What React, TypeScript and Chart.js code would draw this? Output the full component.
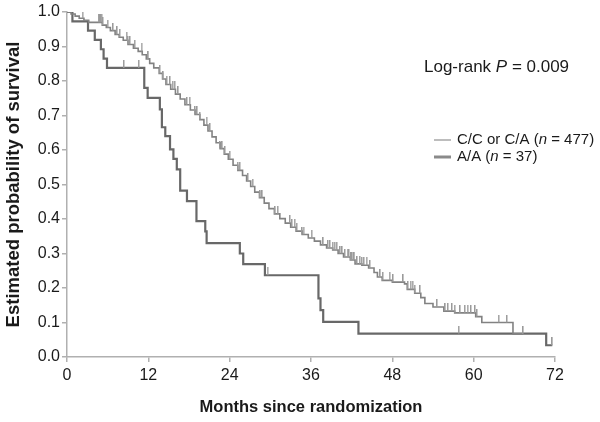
import React, { useEffect, useRef } from "react";
import { Chart, registerables } from "chart.js";

Chart.register(...registerables);

// C/C or C/A (n = 477): event months and survival after each step
const ccMonths = [0, 0.6, 1.2, 1.8, 2.5, 3.2, 5.2, 5.8, 6.4, 7.1, 7.7, 8.3, 9.0, 9.8, 10.5, 11.1, 11.7, 12.2, 12.8, 13.6, 14.1, 14.6, 15.3, 16.0, 16.7, 17.4, 18.2, 18.9, 19.6, 20.2, 20.8, 21.4, 22.0, 22.6, 23.2, 23.8, 24.5, 25.2, 25.9, 26.5, 27.1, 27.7, 28.4, 29.1, 29.8, 30.6, 31.4, 32.2, 33.0, 33.8, 34.7, 35.6, 36.5, 37.4, 38.3, 39.2, 40.0, 40.8, 41.8, 42.5, 43.5, 44.5, 45.3, 45.8, 46.5, 48.0, 49.8, 50.2, 51.3, 52.2, 52.8, 54.0, 55.6, 57.2, 60.3, 61.2, 65.8, 67.3];
const ccSurv = [1.0, 0.994, 0.988, 0.982, 0.976, 0.97, 0.962, 0.955, 0.946, 0.935, 0.927, 0.918, 0.906, 0.895, 0.886, 0.876, 0.864, 0.851, 0.838, 0.822, 0.806, 0.79, 0.776, 0.762, 0.748, 0.731, 0.716, 0.703, 0.688, 0.672, 0.655, 0.638, 0.621, 0.604, 0.588, 0.573, 0.556, 0.541, 0.526, 0.51, 0.494, 0.478, 0.462, 0.446, 0.43, 0.415, 0.401, 0.388, 0.376, 0.365, 0.355, 0.345, 0.336, 0.325, 0.316, 0.31, 0.3, 0.29, 0.281, 0.27, 0.266, 0.258, 0.245, 0.232, 0.222, 0.217, 0.212, 0.196, 0.185, 0.172, 0.155, 0.145, 0.133, 0.128, 0.117, 0.1, 0.067, 0.067];
const ccCensor = [2.3, 4.7, 4.9, 5.0, 5.1, 5.3, 6.0, 6.8, 7.4, 7.8, 8.8, 9.0, 9.3, 10.0, 11.0, 12.0, 13.7, 14.2, 14.7, 15.2, 15.6, 15.9, 16.4, 17.7, 18.1, 18.9, 19.2, 19.6, 20.6, 21.1, 22.6, 22.9, 23.3, 24.0, 25.2, 25.5, 26.7, 27.4, 28.5, 28.8, 30.7, 31.1, 32.9, 33.2, 33.6, 33.9, 34.7, 34.9, 36.1, 37.8, 38.5, 38.8, 39.2, 39.5, 39.8, 40.3, 40.6, 41.0, 41.4, 41.6, 41.9, 42.1, 42.4, 42.8, 43.2, 43.5, 43.8, 44.2, 44.7, 46.2, 46.6, 47.6, 48.1, 49.6, 50.3, 50.7, 51.0, 51.3, 52.1, 54.6, 55.8, 56.2, 56.8, 57.2, 58.0, 58.7, 59.1, 59.6, 60.2, 60.5, 63.7, 64.9, 67.3];

// A/A (n = 37)
const aaMonths = [0, 0.8, 3.1, 4.1, 5.0, 5.4, 5.9, 11.4, 11.9, 13.7, 14.0, 14.5, 15.2, 15.7, 16.2, 16.7, 17.7, 19.1, 20.4, 20.6, 25.5, 26.0, 29.2, 37.1, 37.4, 37.8, 43.0, 70.7, 71.6];
const aaSurv = [1.0, 0.973, 0.946, 0.919, 0.892, 0.865, 0.838, 0.78, 0.751, 0.718, 0.666, 0.64, 0.602, 0.574, 0.544, 0.482, 0.452, 0.394, 0.364, 0.33, 0.3, 0.269, 0.237, 0.17, 0.136, 0.102, 0.068, 0.034, 0.034];
const aaCensor = [8.4, 10.6, 29.6, 57.8, 71.6];

const xTicks = [0, 12, 24, 36, 48, 60, 72];

const lookup = (months: number[], surv: number[], t: number) => {
  let v = surv[0];
  for (let i = 0; i < months.length; i++) {
    if (months[i] <= t) v = surv[i];
  }
  return v;
};

const FONT = '"Liberation Sans", Arial, Helvetica, sans-serif';

export default function App() {
  const ref = useRef<HTMLCanvasElement | null>(null);

  useEffect(() => {
    if (!ref.current) return;
    const mark = document.createElement("canvas");
    mark.width = 2;
    mark.height = 16;
    const mctx = mark.getContext("2d")!;
    mctx.fillStyle = "#9a9a9a";
    mctx.fillRect(0, 0, 1.5, 8);

    const textPlugin = {
      id: "texts",
      afterDraw(chart: any) {
        const ctx = chart.ctx as CanvasRenderingContext2D;
        ctx.save();
        ctx.fillStyle = "#1a1a1a";
        ctx.textBaseline = "middle";
        ctx.textAlign = "left";
        const run = (parts: [string, boolean][], x: number, y: number, size: number) => {
          let cx = x;
          for (const [t, it] of parts) {
            ctx.font = `${it ? "italic " : ""}${size}px ${FONT}`;
            ctx.fillText(t, cx, y);
            cx += ctx.measureText(t).width;
          }
        };
        run([["Log-rank ", false], ["P", true], [" = 0.009", false]], 424, 67, 17);
        ctx.lineCap = "butt";
        ctx.strokeStyle = "#bdbdbd";
        ctx.lineWidth = 2;
        ctx.beginPath();
        ctx.moveTo(434, 140);
        ctx.lineTo(451, 140);
        ctx.stroke();
        ctx.strokeStyle = "#8a8a8a";
        ctx.lineWidth = 3;
        ctx.beginPath();
        ctx.moveTo(434, 157);
        ctx.lineTo(451, 157);
        ctx.stroke();
        run([["C/C or C/A (", false], ["n", true], [" = 477)", false]], 457, 140, 15);
        run([["A/A (", false], ["n", true], [" = 37)", false]], 457, 157, 15);
        ctx.restore();
      },
    };

    const chart = new Chart(ref.current, {
      type: "line",
      data: {
        datasets: [
          {
            type: "scatter",
            data: ccCensor.map((t) => ({ x: t, y: lookup(ccMonths, ccSurv, t) })),
            pointStyle: mark as any,
            pointRadius: 4,
            showLine: false,
          } as any,
          {
            type: "scatter",
            data: aaCensor.map((t) => ({ x: t, y: lookup(aaMonths, aaSurv, t) })),
            pointStyle: mark as any,
            pointRadius: 4,
            showLine: false,
          } as any,
          {
            data: ccMonths.map((m, i) => ({ x: m, y: ccSurv[i] })),
            borderColor: "#828282",
            borderWidth: 1.6,
            stepped: true,
            pointRadius: 0,
            fill: false,
          },
          {
            data: aaMonths.map((m, i) => ({ x: m, y: aaSurv[i] })),
            borderColor: "#686868",
            borderWidth: 2.2,
            stepped: true,
            pointRadius: 0,
            fill: false,
          },
        ],
      },
      options: {
        responsive: false,
        animation: false,
        layout: { padding: { left: 0, top: 12, right: 45, bottom: 0 } },
        plugins: { legend: { display: false }, tooltip: { enabled: false } },
        scales: {
          x: {
            type: "linear",
            min: 0,
            max: 72,
            afterBuildTicks: (s: any) => {
              s.ticks = xTicks.map((v) => ({ value: v }));
            },
            afterFit: (s: any) => {
              s.height = 65;
            },
            grid: { drawOnChartArea: false, tickLength: 5, color: "#b0b0b0", lineWidth: 1.5 },
            border: { color: "#b0b0b0", width: 1.5 },
            ticks: { color: "#1a1a1a", font: { family: FONT, size: 16 }, padding: 4, maxRotation: 0 },
            title: {
              display: true,
              text: "Months since randomization",
              color: "#1a1a1a",
              font: { family: FONT, size: 16.5, weight: "bold" },
              padding: { top: 0, bottom: 5 },
            },
          },
          y: {
            min: 0,
            max: 1,
            ticks: {
              stepSize: 0.1,
              color: "#1a1a1a",
              font: { family: FONT, size: 16 },
              padding: 2,
              callback: (v: any) => Number(v).toFixed(1),
            },
            afterFit: (s: any) => {
              s.width = 67;
            },
            grid: { drawOnChartArea: false, tickLength: 5, color: "#b0b0b0", lineWidth: 1.5 },
            border: { color: "#b0b0b0", width: 1.5 },
            title: {
              display: true,
              text: "Estimated probability of survival",
              color: "#1a1a1a",
              font: { family: FONT, size: 18.5, weight: "bold" },
              padding: { top: 3, bottom: 0 },
            },
          },
        },
      },
      plugins: [textPlugin],
    } as any);
    return () => chart.destroy();
  }, []);

  return (
    <div style={{ position: "fixed", left: 0, top: 0, width: 600, height: 422, background: "#fff" }}>
      <canvas ref={ref} width={600} height={422} style={{ display: "block" }} />
    </div>
  );
}
